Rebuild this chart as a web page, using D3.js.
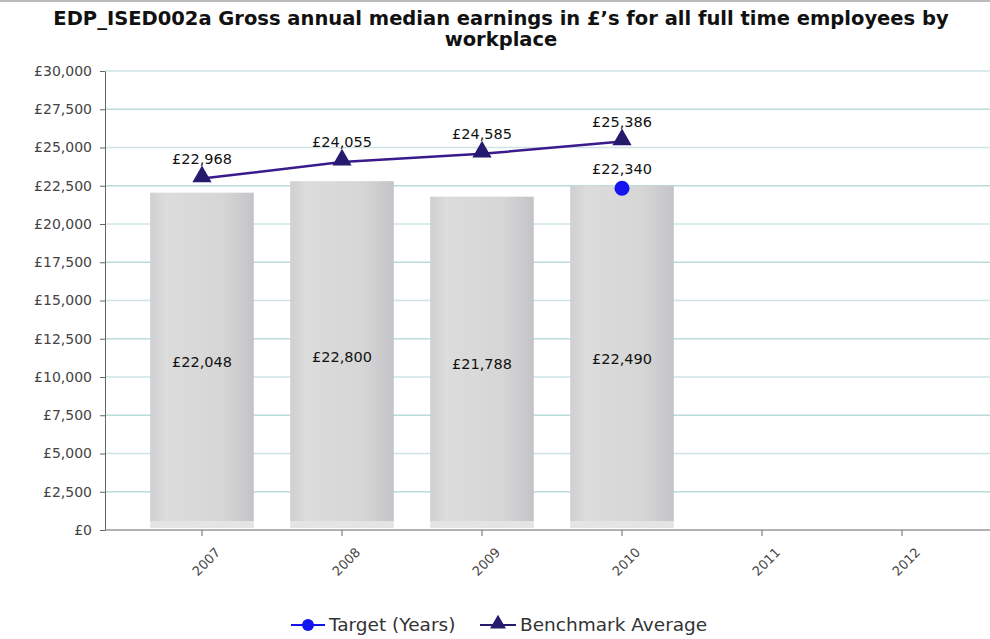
<!DOCTYPE html>
<html>
<head>
<meta charset="utf-8">
<style>
  html, body { margin: 0; padding: 0; background: #fff; }
  svg text { font-family: "DejaVu Sans", sans-serif; }
  .title { font-family: "DejaVu Sans", sans-serif; font-weight: bold; font-size: 19.5px; fill: #111; }
  .axis text { fill: #444; font-size: 14px; }
  .axis .domain, .axis line { stroke: #666; }
  .lbl { font-size: 14.5px; fill: #111; text-anchor: middle; }
  .legend text { font-size: 18.5px; fill: #333; }
</style>
<script src="https://cdn.jsdelivr.net/npm/d3@7"></script>
</head>
<body>
<div id="main"></div>
<script>
var years = ["2007", "2008", "2009", "2010", "2011", "2012"];
var earnings = [22048, 22800, 21788, 22490, null, null];
var benchmark = [22968, 24055, 24585, 25386, null, null];
var target = [null, null, null, 22340, null, null];
var yTicks = [0, 2500, 5000, 7500, 10000, 12500, 15000, 17500, 20000, 22500, 25000, 27500, 30000];

var width = 990, height = 639;
var plotLeft = 105, plotRight = 990, plotTop = 71, plotBottom = 530;

var svg = d3.select("#main").append("svg")
    .attr("width", width)
    .attr("height", height);

var defs = svg.append("defs");
var grad = defs.append("linearGradient").attr("id", "barGrad");
grad.append("stop").attr("offset", "0%").attr("stop-color", "#cfcfd2");
grad.append("stop").attr("offset", "15%").attr("stop-color", "#dcdcdc");
grad.append("stop").attr("offset", "70%").attr("stop-color", "#d6d6d6");
grad.append("stop").attr("offset", "100%").attr("stop-color", "#c4c4c8");

var x = d3.scaleBand().domain(years).range([132, 972]).paddingInner(0.26).paddingOuter(0.13);
var y = d3.scaleLinear().domain([0, 30000]).range([plotBottom, plotTop]);
var fmt = function(v) { return "\u00a3" + d3.format(",")(v); };

// frame top line
svg.append("line").attr("x1", 0).attr("x2", width).attr("y1", 1).attr("y2", 1)
    .attr("stroke", "#bbb").attr("stroke-width", 2);

// gridlines
svg.append("g").selectAll("line")
    .data(yTicks.slice(1))
    .enter().append("line")
    .attr("x1", plotLeft).attr("x2", plotRight)
    .attr("y1", function(d) { return y(d); })
    .attr("y2", function(d) { return y(d); })
    .attr("stroke", function(d, i) { return i % 2 ? "#cfe3e6" : "#b8dcd8"; })
    .attr("stroke-width", 1.5);

// bars
var bars = svg.append("g").selectAll("g")
    .data(years.map(function(d, i) { return { year: d, v: earnings[i] }; }).filter(function(d) { return d.v != null; }))
    .enter().append("g");

bars.append("rect")
    .attr("x", function(d) { return x(d.year); })
    .attr("y", function(d) { return y(d.v); })
    .attr("width", x.bandwidth())
    .attr("height", function(d) { return y(0) - y(d.v) - 8; })
    .attr("fill", "url(#barGrad)");

bars.append("rect")
    .attr("x", function(d) { return x(d.year); })
    .attr("y", y(0) - 9)
    .attr("width", x.bandwidth())
    .attr("height", 7)
    .attr("fill", "#e4e4e4");

bars.append("text")
    .attr("class", "lbl")
    .attr("x", function(d) { return x(d.year) + x.bandwidth() / 2; })
    .attr("y", function(d) { return (y(d.v) + y(0)) / 2 + 6; })
    .text(function(d) { return fmt(d.v); });

// axes
svg.append("g")
    .attr("class", "axis")
    .attr("transform", "translate(" + plotLeft + ",0)")
    .call(d3.axisLeft(y).tickValues(yTicks).tickSize(5).tickSizeOuter(0).tickPadding(8).tickFormat(fmt));

var xAxis = svg.append("g")
    .attr("class", "axis")
    .attr("transform", "translate(0," + plotBottom + ")")
    .call(d3.axisBottom(x).tickSize(6).tickSizeOuter(0));
xAxis.select(".domain").attr("d", "M" + plotLeft + ",0H" + plotRight);
xAxis.selectAll("text")
    .style("font-size", "13px")
    .attr("text-anchor", "end")
    .attr("x", 0)
    .attr("y", 0)
    .attr("dy", "0.35em")
    .attr("transform", "translate(16,20) rotate(-45)");

// benchmark line
var bmData = years.map(function(d, i) { return { year: d, v: benchmark[i] }; }).filter(function(d) { return d.v != null; });
var cx = function(d) { return x(d.year) + x.bandwidth() / 2; };
svg.append("path")
    .datum(bmData)
    .attr("fill", "none")
    .attr("stroke", "#3a1a8c")
    .attr("stroke-width", 2.5)
    .attr("d", d3.line().x(cx).y(function(d) { return y(d.v); }));

var tri = d3.symbol().type(d3.symbolTriangle).size(160);
svg.append("g").selectAll("path")
    .data(bmData)
    .enter().append("path")
    .attr("d", tri)
    .attr("fill", "#241a6e")
    .attr("transform", function(d) { return "translate(" + cx(d) + "," + (y(d.v) - 2) + ")"; });

svg.append("g").selectAll("text")
    .data(bmData)
    .enter().append("text")
    .attr("class", "lbl")
    .attr("x", cx)
    .attr("y", function(d) { return y(d.v) - 15; })
    .text(function(d) { return fmt(d.v); });

// target
var tgData = years.map(function(d, i) { return { year: d, v: target[i] }; }).filter(function(d) { return d.v != null; });
svg.append("g").selectAll("circle")
    .data(tgData)
    .enter().append("circle")
    .attr("cx", cx)
    .attr("cy", function(d) { return y(d.v); })
    .attr("r", 7.5)
    .attr("fill", "#1414f0");
svg.append("g").selectAll("text")
    .data(tgData)
    .enter().append("text")
    .attr("class", "lbl")
    .attr("x", cx)
    .attr("y", function(d) { return y(d.v) - 14; })
    .text(function(d) { return fmt(d.v); });

// title
var title = svg.append("text")
    .attr("class", "title")
    .attr("text-anchor", "middle");
title.append("tspan").attr("x", 501).attr("y", 25)
    .text("EDP_ISED002a Gross annual median earnings in \u00a3\u2019s for all full time employees by");
title.append("tspan").attr("x", 501).attr("y", 46).text("workplace");

// legend
var lg = svg.append("g").attr("class", "legend").attr("transform", "translate(0,625)");
lg.append("line").attr("x1", 291).attr("x2", 325).attr("y1", 0).attr("y2", 0).attr("stroke", "#1414f0").attr("stroke-width", 2);
lg.append("circle").attr("cx", 308).attr("cy", 0).attr("r", 6).attr("fill", "#1414f0");
lg.append("text").attr("x", 329).attr("y", 6).text("Target (Years)");
lg.append("line").attr("x1", 480).attr("x2", 516).attr("y1", 0).attr("y2", 0).attr("stroke", "#241a6e").attr("stroke-width", 2);
lg.append("path").attr("d", d3.symbol().type(d3.symbolTriangle).size(110)).attr("fill", "#241a6e").attr("transform", "translate(498,-1)");
lg.append("text").attr("x", 520).attr("y", 6).text("Benchmark Average");
</script>
</body>
</html>
